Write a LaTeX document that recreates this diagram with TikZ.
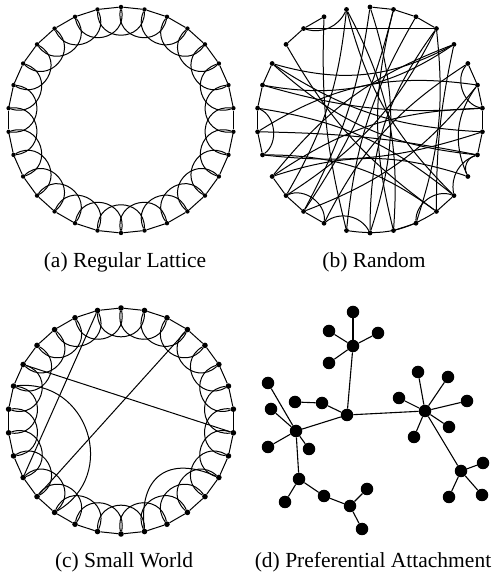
\documentclass[tikz,border=0pt]{standalone}
\usepackage{fontspec}
\setmainfont{Liberation Serif}
\usepackage{tikz}

\tikzset{
  ringdot/.style={circle,fill=black,inner sep=0pt,minimum size=4.4pt},
  randdot/.style={circle,fill=black,inner sep=0pt,minimum size=4.8pt},
  swdot/.style={circle,fill=black,inner sep=0pt,minimum size=5.6pt},
  ball/.style={circle,fill=black,inner sep=0pt,minimum size=12.5pt},
  link/.style={draw=black,line width=1pt},
  tree/.style={draw=black,line width=1.1pt},
  caption/.style={anchor=base,font=\fontsize{21.5}{26}\selectfont},
}

\begin{document}
\begin{tikzpicture}[x=1pt,y=1pt]
\useasboundingbox (0,0) rectangle (495,575);

% (a) regular lattice
\foreach \k in {0,...,29}
  \node[ringdot] (la\k) at ([shift={(121,455)}]90+12*\k:113) {};
\foreach \k in {0,...,29} {
  \pgfmathtruncatemacro{\nxt}{mod(\k+1,30)}
  \pgfmathtruncatemacro{\skp}{mod(\k+2,30)}
  \draw[link] (la\k) -- (la\nxt);
  \draw[link] (la\k) to[bend left=90,looseness=1.7] (la\skp);
}
\node[caption] (capa) at (125,307) {(a) Regular Lattice};

% (b) random
\foreach \k in {0,...,29}
  \node[randdot] (rn\k) at ([shift={(370,455)}]90+12*\k:113) {};
\foreach \u/\v/\b in {3/27/0, 2/3/0, 28/29/0, 27/28/0, 0/29/0,
    2/14/-8, 1/11/12, 1/19/-15, 0/15/18, 29/12/10,
    27/11/15, 26/5/22, 26/10/-15, 26/18/-6, 5/22/-15,
    4/3/0, 6/7/0, 7/8/0, 6/23/-10, 7/19/15,
    8/21/5, 7/9/60, 9/18/18, 10/20/18, 10/11/0,
    11/12/0, 11/13/60, 12/13/0, 16/17/0, 17/27/-12,
    16/29/14, 13/25/15, 20/21/50, 19/21/40, 21/22/0,
    22/23/0, 23/24/0, 24/25/0, 25/23/-60, 18/19/0,
    14/28/12, 12/0/-10, 8/9/0, 5/6/0,
    12/24/-15, 15/27/18, 16/1/-16, 5/21/-18, 8/24/20,
    9/22/-12, 10/23/16, 24/20/-30, 17/19/55, 13/15/50,
    6/26/-22, 14/18/-20, 18/4/12, 1/3/40}
  \draw[link] (rn\u) to[bend left=\b] (rn\v);
\node[caption] (capb) at (374,307) {(b) Random};

% (c) small world
\foreach \k in {0,...,29}
  \node[swdot] (sw\k) at ([shift={(121,154)}]90+12*\k:113) {};
\foreach \k in {0,...,29} {
  \pgfmathtruncatemacro{\nxt}{mod(\k+1,30)}
  \pgfmathtruncatemacro{\skp}{mod(\k+2,30)}
  \draw[link] (sw\k) -- (sw\nxt);
  \draw[link] (sw\k) to[bend left=90,looseness=1.7] (sw\skp);
}
% rewired links
\draw[link] (sw1) -- (sw10);
\draw[link] (sw5) -- (sw22);
\draw[link] (sw27) -- (sw11);
\draw[link] (sw6) to[bend left=78,looseness=1.4] (sw12);
\draw[link] (sw16) to[bend left=60,looseness=1.5] (sw20);
\node[caption] (capc) at (124,7) {(c) Small World};

% (d) preferential attachment
\node[ball] (pc) at (347,160) {};
\node[ball] (pa) at (353,229) {};
\node[ball] (pa1) at (353,263) {};
\node[ball] (pa2) at (329,244) {};
\node[ball] (pa3) at (378,242) {};
\node[ball] (pa4) at (329,212) {};
\node[ball] (pp) at (322,172) {};
\node[ball] (pq) at (295,173) {};
\node[ball] (pb) at (296,144) {};
\node[ball] (pb1) at (268,192) {};
\node[ball] (pb2) at (271,166) {};
\node[ball] (pb3) at (268,128) {};
\node[ball] (pb4) at (309,126) {};
\node[ball] (pe) at (299,96) {};
\node[ball] (pe1) at (285,73) {};
\node[ball] (pr) at (324,79) {};
\node[ball] (pf) at (350,69) {};
\node[ball] (pf1) at (367,86) {};
\node[ball] (pf2) at (362,46) {};
\node[ball] (pd) at (425,164) {};
\node[ball] (pd1) at (418,203) {};
\node[ball] (pd2) at (448,198) {};
\node[ball] (pd3) at (467,174) {};
\node[ball] (pd4) at (399,177) {};
\node[ball] (pd5) at (449,148) {};
\node[ball] (pd6) at (414,138) {};
\node[ball] (pg) at (461,104) {};
\node[ball] (pg1) at (483,112) {};
\node[ball] (pg2) at (449,78) {};
\node[ball] (pg3) at (482,80) {};
\foreach \u/\v in {pc/pa, pa/pa1, pa/pa2, pa/pa3, pa/pa4, pc/pp, pp/pq,
    pc/pb, pb/pb1, pb/pb2, pb/pb3, pb/pb4, pb/pe, pe/pe1, pe/pr, pr/pf,
    pf/pf1, pf/pf2, pc/pd, pd/pd1, pd/pd2, pd/pd3, pd/pd4, pd/pd5, pd/pd6,
    pd/pg, pg/pg1, pg/pg2, pg/pg3}
  \draw[tree] (\u) -- (\v);
\node[caption] (capd) at (373,7) {(d) Preferential Attachment};
\end{tikzpicture}
\end{document}
